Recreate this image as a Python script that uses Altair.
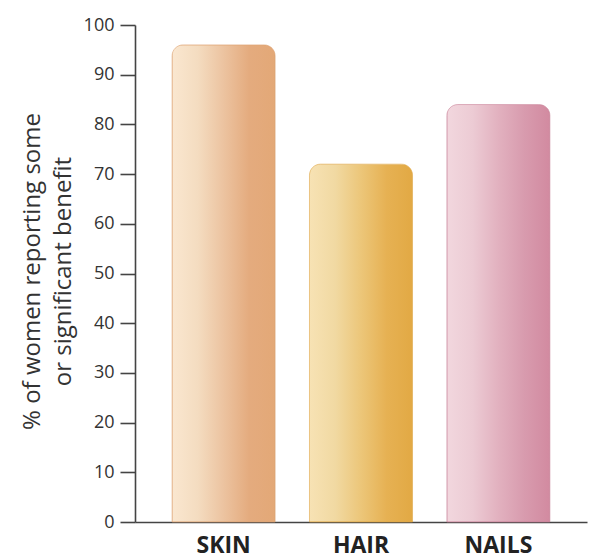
import altair as alt
import pandas as pd

categories = ["SKIN", "HAIR", "NAILS"]
values = [96, 72, 84]

# gradient stops per bar (left -> right)
grad_stops = {
    "SKIN": ["#FAE7D0", "#F4DCC0", "#ECC3A0", "#E4AB7E", "#E3A877"],
    "HAIR": ["#F7E2B4", "#F1D9A2", "#ECC679", "#E6B153", "#E2A944"],
    "NAILS": ["#F2D7DE", "#ECCBD4", "#E2B1BF", "#D89BAE", "#D28AA0"],
}
edge_color = {"SKIN": "#DDA577", "HAIR": "#DFA646", "NAILS": "#C98499"}

df = pd.DataFrame({"cat": categories, "val": values})

FONT = "Open Sans"

x_enc = alt.X(
    "cat:N",
    sort=categories,
    scale=alt.Scale(domain=categories, paddingInner=0.25, paddingOuter=0.27),
    axis=alt.Axis(
        title=None,
        labelAngle=0,
        ticks=False,
        labelFont=FONT,
        labelFontSize=23,
        labelFontWeight="bold",
        labelColor="#222222",
        labelPadding=12,
        domainColor="#444444",
        domainWidth=1.6,
    ),
)
y_enc = alt.Y(
    "val:Q",
    scale=alt.Scale(domain=[0, 100], nice=False),
    axis=alt.Axis(
        values=list(range(0, 101, 10)),
        title=["% of women reporting some", "or significant benefit"],
        titleFont=FONT,
        titleFontSize=24,
        titleFontWeight="normal",
        titleColor="#333333",
        titleAngle=-90,
        titleAlign="center",
        titleBaseline="middle",
        titleLineHeight=31,
        titleX=-103,
        titleY=246,
        labelFont=FONT,
        labelFontSize=18,
        labelColor="#333333",
        labelPadding=6,
        tickSize=15,
        tickColor="#444444",
        tickWidth=1.6,
        domainColor="#444444",
        domainWidth=1.6,
        grid=False,
    ),
)

layers = []
for c in categories:
    stops = grad_stops[c]
    n = len(stops)
    gradient = {
        "gradient": "linear",
        "x1": 0, "x2": 1, "y1": 0, "y2": 0,
        "stops": [{"offset": i / (n - 1), "color": col} for i, col in enumerate(stops)],
    }
    layer = (
        alt.Chart(df)
        .transform_filter(alt.datum.cat == c)
        .mark_bar(
            cornerRadiusTopLeft=11,
            cornerRadiusTopRight=11,
            stroke=edge_color[c],
            strokeWidth=1,
            strokeOpacity=0.6,
        )
        .encode(x=x_enc, y=y_enc, color=alt.value(gradient))
    )
    layers.append(layer)

chart = (
    alt.layer(*layers)
    .properties(
        width=452,
        height=497,
        autosize=alt.AutoSizeParams(type="none"),
        padding={"left": 135, "top": 25, "right": 10, "bottom": 37},
        background="white",
    )
    .configure_view(stroke=None)
)

chart.save("out.html", embed_options={"renderer": "svg", "actions": False})
